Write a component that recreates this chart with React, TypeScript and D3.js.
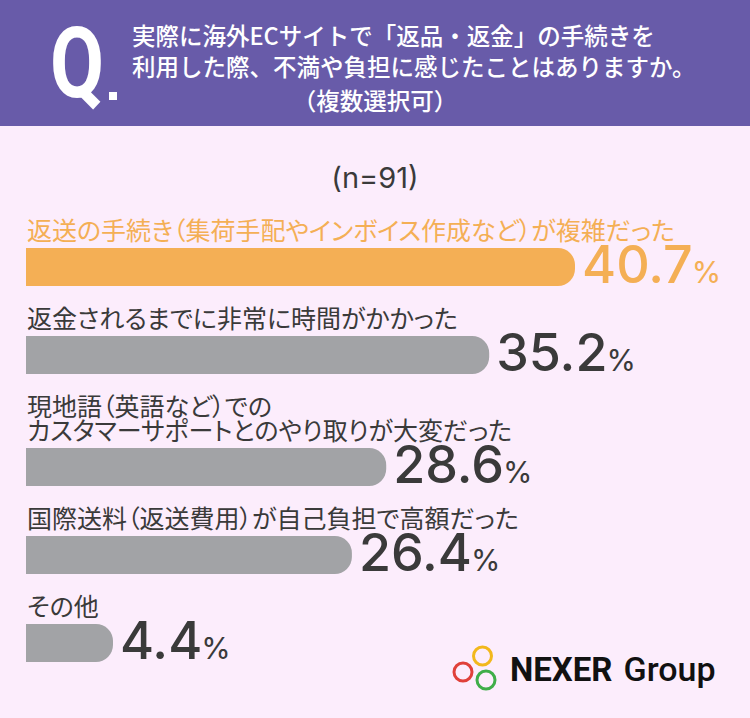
import * as d3 from "d3";
import { useEffect, useRef } from "react";

const questionLines = [
  "実際に海外ECサイトで「返品・返金」の手続きを",
  "利用した際、不満や負担に感じたことはありますか。",
];
const questionNote = "（複数選択可）";
const sampleLabel = "(n=91)";

const labels: string[][] = [
  ["返送の手続き（集荷手配やインボイス作成など）が複雑だった"],
  ["返金されるまでに非常に時間がかかった"],
  ["現地語（英語など）での", "カスタマーサポートとのやり取りが大変だった"],
  ["国際送料（返送費用）が自己負担で高額だった"],
  ["その他"],
];
const values = [40.7, 35.2, 28.6, 26.4, 4.4];

const W = 750;
const H = 718;
const BG = "#fcedfc";
const PURPLE = "#685ba9";
const ORANGE = "#f4af55";
const GRAY = "#a2a3a6";
const TEXT = "#3a3a3a";
const JP = "'Noto Sans CJK JP', 'Noto Sans', sans-serif";
const NUM = "Inter, Lato, sans-serif";

const App = () => {
  const svgRef = useRef<SVGSVGElement>(null);

  useEffect(() => {
    const svg = d3.select(svgRef.current);
    svg.selectAll("*").remove();

    const left = 26;
    const barH = 38;
    const lineH = 24;
    const minBar = 87;

    // bars start at the left edge, but the value axis zero sits off-canvas
    const x = d3.scaleLinear().domain([0, d3.max(values)!]).range([-60, 575]);

    svg.append("rect").attr("width", W).attr("height", H).attr("fill", BG);

    // header
    svg.append("rect").attr("width", W).attr("height", 126).attr("fill", PURPLE);
    svg
      .append("text")
      .attr("x", 50)
      .attr("y", 97)
      .attr("transform", "translate(50,97) scale(0.8,1) translate(-50,-97)")
      .attr("font-family", "Roboto, sans-serif")
      .attr("font-weight", 700)
      .attr("font-size", 98)
      .attr("fill", "#fff")
      .text("Q");
    svg
      .append("rect")
      .attr("x", 109)
      .attr("y", 92)
      .attr("width", 8)
      .attr("height", 8)
      .attr("fill", "#fff");

    svg
      .selectAll(".qline")
      .data(questionLines)
      .join("text")
      .attr("class", "qline")
      .attr("x", 132)
      .attr("y", (_, i) => 45 + i * 31)
      .attr("font-family", JP)
      .attr("font-weight", 500)
      .attr("font-size", 23.5)
      .attr("fill", "#fff")
      .text((d) => d);
    svg
      .append("text")
      .attr("x", W / 2)
      .attr("y", 110)
      .attr("text-anchor", "middle")
      .attr("font-family", JP)
      .attr("font-weight", 500)
      .attr("font-size", 23.5)
      .attr("fill", "#fff")
      .text(questionNote);

    svg
      .append("text")
      .attr("x", W / 2)
      .attr("y", 188)
      .attr("text-anchor", "middle")
      .attr("font-family", NUM)
      .attr("font-weight", 400)
      .attr("font-size", 29)
      .attr("fill", TEXT)
      .text(sampleLabel);

    // layout of items
    let cursor = 240;
    const items = labels.map((lines, i) => {
      const baselines = lines.map((_, j) => cursor + j * lineH);
      const top = baselines[baselines.length - 1] + 8;
      cursor = top + barH + 42;
      return { lines, value: values[i], baselines, top, color: i === 0 ? ORANGE : GRAY };
    });

    const barPath = (x0: number, x1: number, y0: number, h: number) => {
      const r = 17;
      const p = d3.path();
      p.moveTo(x0, y0);
      p.lineTo(x1 - r, y0);
      p.arcTo(x1, y0, x1, y0 + r, r);
      p.lineTo(x1, y0 + h - r);
      p.arcTo(x1, y0 + h, x1 - r, y0 + h, r);
      p.lineTo(x0, y0 + h);
      p.closePath();
      return p.toString();
    };

    const g = svg.selectAll(".item").data(items).join("g").attr("class", "item");

    g.each(function (d) {
      const sel = d3.select(this);
      const textColor = d.color === ORANGE ? ORANGE : TEXT;
      const end = Math.max(x(d.value), left + minBar);

      sel
        .selectAll("text.label")
        .data(d.lines)
        .join("text")
        .attr("class", "label")
        .attr("x", left + 1)
        .attr("y", (_, j) => d.baselines[j])
        .attr("font-family", JP)
        .attr("font-size", 25)
        .style("font-feature-settings", "'palt'")
        .attr("fill", textColor)
        .text((t) => t);

      sel.append("path").attr("d", barPath(left, end, d.top, barH)).attr("fill", d.color);

      const v = sel
        .append("text")
        .attr("x", end + 7)
        .attr("y", d.top + barH - 3)
        .attr("font-family", NUM)
        .attr("font-weight", 500)
        .attr("font-size", 52)
        .attr("fill", textColor);
      v.append("tspan").text(d3.format(".1f")(d.value));
      v.append("tspan").attr("dx", -1).attr("font-size", 30).attr("font-weight", 400).text("%");
    });

    // logo
    const logo = svg.append("g");
    const rings = [
      { cx: 482.5, cy: 656, c: "#f2b81c" },
      { cx: 463, cy: 672, c: "#e0413a" },
      { cx: 486, cy: 680, c: "#3fae49" },
    ];
    logo
      .selectAll("circle")
      .data(rings)
      .join("circle")
      .attr("cx", (d) => d.cx)
      .attr("cy", (d) => d.cy)
      .attr("r", 9)
      .attr("fill", "none")
      .attr("stroke", (d) => d.c)
      .attr("stroke-width", 3);
    const lt = logo
      .append("text")
      .attr("x", 510)
      .attr("y", 681)
      .attr("font-family", "Roboto, sans-serif")
      .attr("font-size", 33)
      .attr("fill", "#111");
    lt.append("tspan").attr("font-weight", 700).text("NEXER");
    lt.append("tspan").attr("dx", 11).attr("font-weight", 500).attr("font-size", 34).text("Group");
  }, []);

  return (
    <svg
      ref={svgRef}
      width={W}
      height={H}
      style={{ position: "absolute", left: 0, top: 0, display: "block" }}
    />
  );
};

export default App;
